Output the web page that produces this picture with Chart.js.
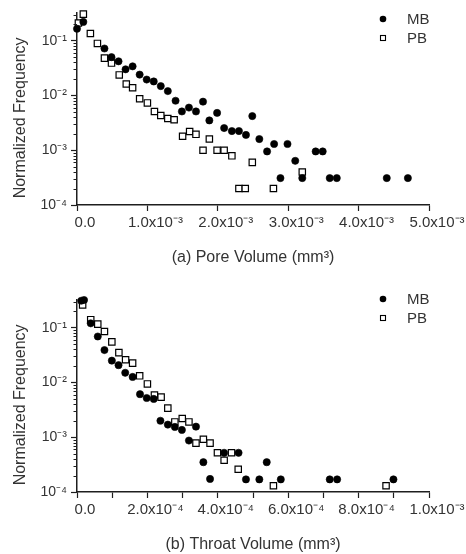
<!DOCTYPE html>
<html>
<head>
<meta charset="utf-8">
<script src="https://cdn.jsdelivr.net/npm/chart.js@4.4.1/dist/chart.umd.min.js"></script>
<style>
html, body { margin: 0; padding: 0; background: #ffffff; }
.panel { width: 466px; height: 277px; }
canvas { display: block; }
</style>
</head>
<body>
<div class="panel"><canvas id="poreChart" width="466" height="277"></canvas></div>
<div class="panel"><canvas id="throatChart" width="466" height="277"></canvas></div>
<script>
// ---------- data ----------
const seriesNames = ['MB', 'PB'];

// (a) Pore volume, mm^3
const poreMB_x = [0.0, 9e-5, 3.9e-4, 4.9e-4, 5.9e-4, 6.9e-4, 7.9e-4, 8.9e-4, 9.9e-4, 1.09e-3, 1.19e-3, 1.29e-3, 1.40e-3, 1.49e-3, 1.59e-3, 1.69e-3, 1.79e-3, 1.88e-3, 1.99e-3, 2.09e-3, 2.20e-3, 2.30e-3, 2.40e-3, 2.49e-3, 2.59e-3, 2.70e-3, 2.80e-3, 2.89e-3, 2.99e-3, 3.10e-3, 3.20e-3, 3.39e-3, 3.49e-3, 3.59e-3, 3.69e-3, 4.40e-3, 4.70e-3];
const poreMB_y = [0.165, 0.22, 0.072, 0.050, 0.042, 0.030, 0.034, 0.024, 0.0195, 0.018, 0.0148, 0.012, 0.0080, 0.0051, 0.0060, 0.0051, 0.0077, 0.0035, 0.0048, 0.00254, 0.00224, 0.00224, 0.0019, 0.0042, 0.0016, 0.00095, 0.0013, 0.00031, 0.0013, 0.00064, 0.00031, 0.00095, 0.00095, 0.00031, 0.00031, 0.00031, 0.00031];
const porePB_x = [2e-5, 9e-5, 1.9e-4, 2.9e-4, 3.9e-4, 4.9e-4, 6.0e-4, 7.0e-4, 7.9e-4, 8.9e-4, 1.00e-3, 1.10e-3, 1.19e-3, 1.29e-3, 1.38e-3, 1.50e-3, 1.60e-3, 1.69e-3, 1.79e-3, 1.88e-3, 1.99e-3, 2.09e-3, 2.20e-3, 2.30e-3, 2.39e-3, 2.49e-3, 2.79e-3, 3.20e-3];
const porePB_y = [0.21, 0.305, 0.135, 0.089, 0.048, 0.039, 0.0237, 0.0162, 0.0138, 0.0087, 0.0073, 0.0051, 0.0043, 0.0038, 0.0036, 0.0018, 0.0022, 0.00195, 0.0010, 0.0016, 0.0010, 0.0010, 0.00079, 0.0002, 0.0002, 0.0006, 0.0002, 0.0004];

// (b) Throat volume, mm^3
const throatMB_x = [1.2e-5, 2.0e-5, 3.9e-5, 5.9e-5, 7.8e-5, 9.9e-5, 1.18e-4, 1.37e-4, 1.58e-4, 1.79e-4, 1.98e-4, 2.18e-4, 2.37e-4, 2.58e-4, 2.78e-4, 2.98e-4, 3.18e-4, 3.38e-4, 3.59e-4, 3.78e-4, 4.18e-4, 4.59e-4, 4.80e-4, 5.18e-4, 5.39e-4, 5.79e-4, 7.18e-4, 7.39e-4, 8.99e-4];
const throatMB_y = [0.31, 0.32, 0.12, 0.069, 0.039, 0.025, 0.0207, 0.015, 0.0126, 0.0061, 0.0052, 0.0050, 0.0020, 0.0017, 0.00154, 0.00136, 0.00087, 0.00156, 0.00035, 0.000173, 0.00052, 0.00052, 0.00017, 0.00017, 0.00035, 0.00017, 0.00017, 0.00017, 0.00017];
const throatPB_x = [1.6e-5, 3.9e-5, 5.9e-5, 7.8e-5, 9.9e-5, 1.19e-4, 1.38e-4, 1.58e-4, 1.78e-4, 2.00e-4, 2.20e-4, 2.39e-4, 2.58e-4, 2.78e-4, 2.99e-4, 3.18e-4, 3.38e-4, 3.59e-4, 3.78e-4, 3.99e-4, 4.18e-4, 4.39e-4, 4.58e-4, 5.58e-4, 8.78e-4];
const throatPB_y = [0.26, 0.14, 0.116, 0.085, 0.055, 0.035, 0.026, 0.0225, 0.0132, 0.0094, 0.0059, 0.0054, 0.0034, 0.0019, 0.0022, 0.0019, 0.00078, 0.00092, 0.00078, 0.00052, 0.00038, 0.00052, 0.00026, 0.00013, 0.00013];

// ticks
const yTickValues = [1e-4, 1e-3, 1e-2, 1e-1];
const yTickLabels = ['10\u207B\u2074', '10\u207B\u00B3', '10\u207B\u00B2', '10\u207B\u00B9'];
const yMinorMultipliers = [2, 3, 4, 5, 6, 7, 8, 9];
const yMin = 1e-4, yMax = 0.32;

const poreTickValues = [0, 1e-3, 2e-3, 3e-3, 4e-3, 5e-3];
const poreTickLabels = ['0.0', '1.0x10\u207B\u00B3', '2.0x10\u207B\u00B3', '3.0x10\u207B\u00B3', '4.0x10\u207B\u00B3', '5.0x10\u207B\u00B3'];
const throatTickValues = [0, 1e-4, 2e-4, 3e-4, 4e-4, 5e-4, 6e-4, 7e-4, 8e-4, 9e-4, 1e-3];
const throatTickLabels = ['0.0', '', '2.0x10\u207B\u2074', '', '4.0x10\u207B\u2074', '', '6.0x10\u207B\u2074', '', '8.0x10\u207B\u2074', '', '1.0x10\u207B\u00B3'];

const yTitle = 'Normalized Frequency';
const poreTitle = '(a) Pore Volume (mm\u00B3)';
const throatTitle = '(b) Throat Volume (mm\u00B3)';

// ---------- styling ----------
const FONT = '"Liberation Sans", Arial, Helvetica, sans-serif';
const TEXT = '#333333';
const AXIS = '#1e1e1e';
Chart.defaults.font.family = FONT;
Chart.defaults.color = TEXT;

function pts(xs, ys) { return xs.map((x, i) => ({ x: x, y: ys[i] })); }

const minorTicksPlugin = {
  id: 'minorTicks',
  afterDraw(chart) {
    const y = chart.scales.y;
    const ctx = chart.ctx;
    ctx.save();
    ctx.strokeStyle = AXIS;
    ctx.lineWidth = 1;
    yTickValues.forEach(d => {
      yMinorMultipliers.forEach(k => {
        const v = k * d;
        if (v > y.max) return;
        const py = Math.round(y.getPixelForValue(v)) + 0.5;
        ctx.beginPath();
        ctx.moveTo(y.right - 3.5, py);
        ctx.lineTo(y.right, py);
        ctx.stroke();
      });
    });
    ctx.restore();
  }
};

const cornerLegendPlugin = {
  id: 'cornerLegend',
  afterDraw(chart, args, opts) {
    const ctx = chart.ctx;
    ctx.save();
    chart.data.datasets.forEach((ds, i) => {
      const mx = opts.x, my = opts.y[i];
      if (ds.pointStyle === 'circle') {
        ctx.fillStyle = '#000';
        ctx.beginPath();
        ctx.arc(mx, my, 3.3, 0, Math.PI * 2);
        ctx.fill();
      } else {
        ctx.fillStyle = '#fff';
        ctx.strokeStyle = '#000';
        ctx.lineWidth = 1.1;
        ctx.fillRect(mx - 2.5, my - 2.5, 5, 5);
        ctx.strokeRect(mx - 2.5, my - 2.5, 5, 5);
      }
      ctx.fillStyle = TEXT;
      ctx.font = '15px ' + FONT;
      ctx.textAlign = 'left';
      ctx.textBaseline = 'middle';
      ctx.fillText(ds.label, opts.textX, my + 0.5);
    });
    ctx.restore();
  }
};

function makeChart(id, mbPts, pbPts, xTickValues, xTickLabels, xMax, xTitle, padTop, padBottom, legendY) {
  return new Chart(document.getElementById(id), {
    type: 'scatter',
    data: {
      datasets: [
        { label: seriesNames[0], data: mbPts, pointStyle: 'circle', pointRadius: 3.6, pointBackgroundColor: '#000', pointBorderColor: '#000', pointBorderWidth: 0.6, showLine: false, clip: false },
        { label: seriesNames[1], data: pbPts, pointStyle: 'rect', pointRadius: 4.5, pointBackgroundColor: '#fff', pointBorderColor: '#000', pointBorderWidth: 1.2, showLine: false, clip: false }
      ]
    },
    options: {
      responsive: false,
      animation: false,
      events: [],
      layout: { padding: { top: padTop, right: 37, bottom: padBottom, left: 0 } },
      plugins: {
        legend: { display: false },
        tooltip: { enabled: false },
        cornerLegend: { x: 383, textX: 407, y: legendY }
      },
      scales: {
        x: {
          type: 'linear',
          min: 0,
          max: xMax,
          afterBuildTicks: s => { s.ticks = xTickValues.map(v => ({ value: v })); },
          afterFit: s => { s.height = 62; },
          ticks: {
            autoSkip: false, maxRotation: 0, minRotation: 0,
            padding: 3, labelOffset: 8,
            font: { size: 15 }, color: TEXT,
            callback: (v, i) => xTickLabels[i]
          },
          grid: { drawOnChartArea: false, drawTicks: true, tickLength: 6, tickColor: AXIS, tickWidth: 1.2 },
          border: { display: true, color: AXIS, width: 1.5 },
          title: { display: true, text: xTitle, font: { size: 16 }, color: TEXT, padding: { top: 0, bottom: 0 } }
        },
        y: {
          type: 'logarithmic',
          min: yMin,
          max: yMax,
          afterBuildTicks: s => { s.ticks = yTickValues.map(v => ({ value: v })); },
          afterFit: s => { s.width = 77; },
          ticks: {
            autoSkip: false, padding: 4,
            font: { size: 14 }, color: TEXT,
            callback: (v, i) => yTickLabels[i]
          },
          grid: { drawOnChartArea: false, drawTicks: true, tickLength: 6, tickColor: AXIS, tickWidth: 1.2 },
          border: { display: true, color: AXIS, width: 1.5 },
          title: { display: true, text: yTitle + '    ', font: { size: 16 }, color: TEXT, padding: { top: 11, bottom: 0 } }
        }
      }
    },
    plugins: [minorTicksPlugin, cornerLegendPlugin]
  });
}

makeChart('poreChart', pts(poreMB_x, poreMB_y), pts(porePB_x, porePB_y), poreTickValues, poreTickLabels, 5e-3, poreTitle, 13, 10, [19, 38]);
makeChart('throatChart', pts(throatMB_x, throatMB_y), pts(throatPB_x, throatPB_y), throatTickValues, throatTickLabels, 1e-3, throatTitle, 23, 0, [22, 41]);
</script>
</body>
</html>
